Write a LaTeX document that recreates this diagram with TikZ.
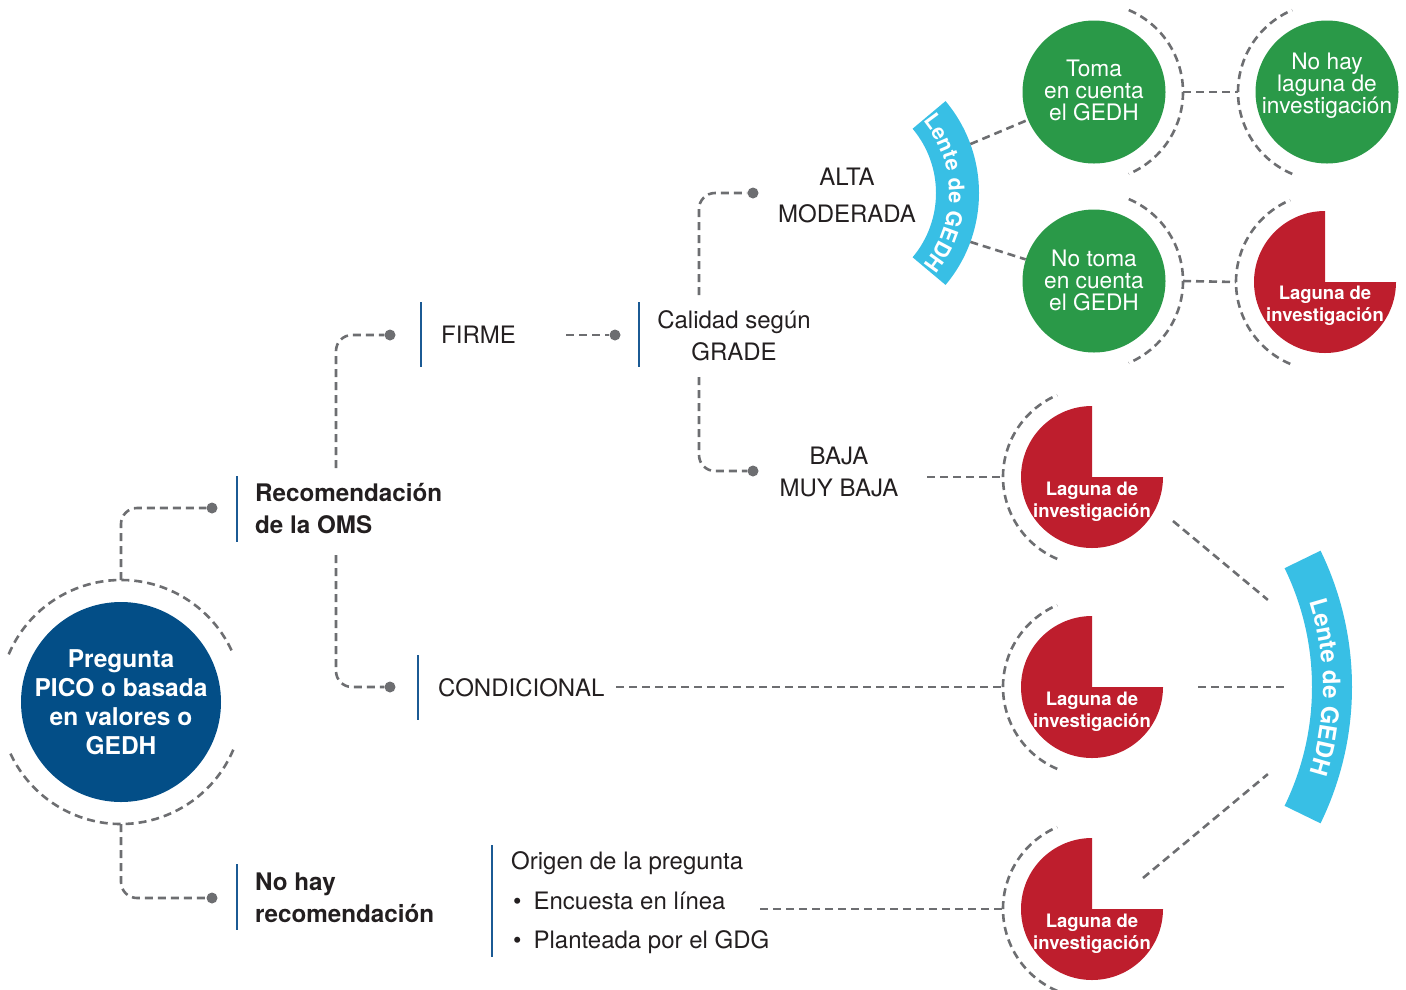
\documentclass[tikz,border=0pt]{standalone}
\usepackage{fontspec}
\setmainfont{TeX Gyre Heros}
\usetikzlibrary{calc,decorations.text}

\definecolor{oceanblue}{HTML}{034E87}
\definecolor{leafgreen}{HTML}{2A9948}
\definecolor{gapred}{HTML}{BE1E2D}
\definecolor{lenscyan}{HTML}{38BFE5}
\definecolor{linkgray}{HTML}{6D6E71}
\definecolor{barblue}{HTML}{1B5A94}
\definecolor{inktext}{HTML}{231F20}

\begin{document}
\begin{tikzpicture}[x=1pt, y=-1pt,
  link/.style={draw=linkgray, line width=2.6pt, dash pattern=on 8pt off 5pt},
  ring/.style={link},
  dotmark/.style={circle, fill=linkgray, inner sep=0pt, minimum size=11pt},
  bar/.style={draw=barblue, line width=2.6pt},
  plain/.style={inner sep=0pt, text=inktext, font=\fontsize{24}{32}\selectfont},
  strong/.style={plain, font=\bfseries\fontsize{24.2}{32}\selectfont},
  disc/.style={circle, inner sep=0pt},
  greendisc/.style={disc, fill=leafgreen, minimum size=143pt},
  disclabel/.style={inner sep=0pt, text=white, align=center, font=\fontsize{22.7}{22}\selectfont},
  gaplabel/.style={inner sep=0pt, text=white, align=center, font=\bfseries\fontsize{18.5}{21.5}\selectfont},
  lenslabel/.style={decorate, decoration={text along path, text align=center, text color=white, text={#1}}}
]
\useasboundingbox (0,0) rectangle (1406,989);

% ---------- starting question ----------
\node[disc, fill=oceanblue, minimum size=200pt] (m) at (121,702) {};
\node[disclabel, font=\bfseries\fontsize{24.5}{29}\selectfont] (mtext) at (m.center) {Pregunta\\PICO o basada\\en valores o\\GEDH};
\draw[ring] ($(m.center)+(-157:122)$) arc[start angle=-157, end angle=-23, radius=122];
\draw[ring] ($(m.center)+(23:122)$) arc[start angle=23, end angle=157, radius=122];

\node[dotmark] (d1) at (212,508) {};
\node[dotmark] (d2) at (212,898) {};
\draw[link, rounded corners=16pt] ($(m.center)+(0,-122)$) |- (d1);
\draw[link, rounded corners=16pt] ($(m.center)+(0,122)$) |- (d2);

% ---------- first level ----------
\coordinate (b1t) at (237,476); \coordinate (b1b) at (237,542);
\draw[bar] (b1t) -- (b1b);
\node[strong, anchor=west, align=left] (trec) at (255,509) {Recomendación\\de la OMS};

\coordinate (b2t) at (237,864); \coordinate (b2b) at (237,930);
\draw[bar] (b2t) -- (b2b);
\node[strong, anchor=west, align=left] (tnohay) at (255,898) {No hay\\recomendación};

% ---------- strength of the recommendation ----------
\coordinate (rup) at (336,468); \coordinate (rdn) at (336,555);
\node[dotmark] (d3) at (390,335) {};
\node[dotmark] (d4) at (390,687) {};
\draw[link, rounded corners=16pt] (rup) |- (d3);
\draw[link, rounded corners=16pt] (rdn) |- (d4);

\coordinate (b3t) at (421,302); \coordinate (b3b) at (421,367);
\draw[bar] (b3t) -- (b3b);
\node[plain, anchor=west] (tfirme) at (441,335) {FIRME};

\coordinate (b5t) at (418,655); \coordinate (b5b) at (418,720);
\draw[bar] (b5t) -- (b5b);
\node[plain, anchor=west] (tcond) at (438,688) {CONDICIONAL};

\coordinate (fout) at (566,335);
\node[dotmark] (d5) at (615,335) {};
\draw[link] (fout) -- (d5);

% ---------- GRADE quality ----------
\coordinate (b4t) at (639,302); \coordinate (b4b) at (639,367);
\draw[bar] (b4t) -- (b4b);
\node[plain, align=center] (tcal) at (734,336) {Calidad según\\GRADE};

\coordinate (cup) at (699,295); \coordinate (cdn) at (699,377);
\node[dotmark] (d6) at (753,193) {};
\node[dotmark] (d7) at (753,471) {};
\draw[link, rounded corners=16pt] (cup) |- (d6);
\draw[link, rounded corners=16pt] (cdn) |- (d7);

\node[plain, align=center, font=\fontsize{24}{37}\selectfont] (talta) at (847,195) {ALTA\\MODERADA};
\node[plain, align=center] (tbaja) at (839,472) {BAJA\\MUY BAJA};

% ---------- question origin ----------
\coordinate (b6t) at (492,845); \coordinate (b6b) at (492,957);
\draw[bar] (b6t) -- (b6b);
\node[plain, anchor=west, align=left, font=\fontsize{24}{39.5}\selectfont] (torig) at (511,903)
  {Origen de la pregunta\\\hspace*{2pt}\textbullet\hspace*{12pt}Encuesta en línea\\\hspace*{2pt}\textbullet\hspace*{12pt}Planteada por el GDG};

% ---------- lens bands ----------
\coordinate (L1) at (836,193);
\fill[lenscyan] ($(L1)+(-40:143)$) arc[start angle=-40, end angle=40, radius=143]
  -- ($(L1)+(40:100)$) arc[start angle=40, end angle=-40, radius=100] -- cycle;
\path[lenslabel={|\bfseries\fontsize{21.5}{21.5}\selectfont|Lente de GEDH}]
  ($(L1)+(-40:113)$) arc[start angle=-40, end angle=40, radius=113];

\coordinate (L2) at (1041,687);
\fill[lenscyan] ($(L2)+(-26:311)$) arc[start angle=-26, end angle=26, radius=311]
  -- ($(L2)+(26:271)$) arc[start angle=26, end angle=-26, radius=271] -- cycle;
\path[lenslabel={|\bfseries\fontsize{24}{24}\selectfont|Lente de GEDH}]
  ($(L2)+(-26:282)$) arc[start angle=-26, end angle=26, radius=282];

% ---------- outcome discs ----------
\node[greendisc] (g1) at (1094,92) {};
\node[disclabel] (g1t) at (1094,90) {Toma\\en cuenta\\el GEDH};
\node[greendisc] (g2) at (1327,92) {};
\node[disclabel] (g2t) at (1327,86) {No hay\\laguna de\\investigación};
\node[greendisc] (g3) at (1094,281) {};
\node[disclabel] (g3t) at (1094,280) {No toma\\en cuenta\\el GEDH};

\coordinate (p1) at (1325,282);
\coordinate (p2) at (1092,477);
\coordinate (p3) at (1092,687);
\coordinate (p4) at (1092,909);
\foreach \pc in {p1,p2,p3,p4}{
  \fill[gapred] (\pc) -- ($(\pc)+(-90:71)$) arc[start angle=-90, end angle=-360, radius=71] -- cycle;
}
\node[gaplabel] (p1t) at ($(p1)+(0,24)$) {Laguna de\\investigación};
\node[gaplabel] (p2t) at ($(p2)+(0,25)$) {Laguna de\\investigación};
\node[gaplabel] (p3t) at ($(p3)+(0,25)$) {Laguna de\\investigación};
\node[gaplabel] (p4t) at ($(p4)+(0,25)$) {Laguna de\\investigación};

% dashed half rings
\draw[ring] ($(g1.center)+(-67:89)$) arc[start angle=-67, end angle=67, radius=89];
\draw[ring] ($(g3.center)+(-67:89)$) arc[start angle=-67, end angle=67, radius=89];
\draw[ring] ($(g2.center)+(113:89)$) arc[start angle=113, end angle=247, radius=89];
\foreach \pc in {p1,p2,p3,p4}{
  \draw[ring] ($(\pc)+(113:89)$) arc[start angle=113, end angle=247, radius=89];
}

% ---------- connectors to the outcomes ----------
\draw[link] ($(L1)+(-20:143)$) -- (g1);
\draw[link] ($(L1)+(20:143)$) -- (g3);
\draw[link] ($(g1.center)+(89,0)$) -- ($(g2.center)+(-89,0)$);
\draw[link] ($(g3.center)+(89,0)$) -- ($(p1)+(-89,0)$);

\coordinate (bjout) at (927,477);
\draw[link] (bjout) -- ($(p2)+(-89,0)$);
\coordinate (cdout) at (616,687);
\draw[link] (cdout) -- ($(p3)+(-89,0)$);
\coordinate (orout) at (760,909);
\draw[link] (orout) -- ($(p4)+(-89,0)$);

\coordinate (q1) at (1173,521);
\coordinate (q2) at (1198,687);
\coordinate (q3) at (1143,878);
\draw[link] (q1) -- ($(L2)+(-21:243)$);
\draw[link] (q2) -- ($(L2)+(0:243)$);
\draw[link] (q3) -- ($(L2)+(21:243)$);
\end{tikzpicture}
\end{document}
